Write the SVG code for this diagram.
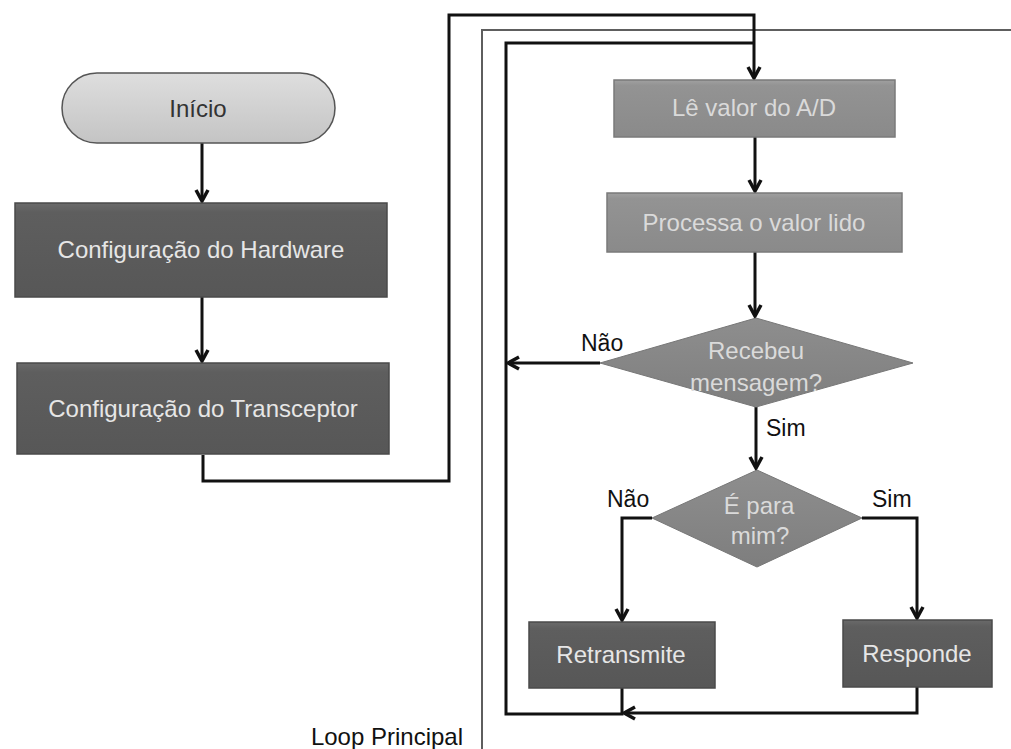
<svg xmlns="http://www.w3.org/2000/svg" width="1011" height="749" viewBox="0 0 1011 749">
<style>
.t{font-family:"Liberation Sans",Arial,sans-serif;font-size:24px;text-anchor:middle}
.lt{fill:#e6e6e6}
.mt{fill:#dadada}
.lab{font-family:"Liberation Sans",Arial,sans-serif;font-size:23px;fill:#111}
.dark{fill:url(#gDark);stroke:#4a4a4a;stroke-width:1.5}
.mid{fill:url(#gMid);stroke:#7a7a7a;stroke-width:1.5}
.dia{fill:url(#gDia);stroke:#777;stroke-width:1}
.ln{fill:none;stroke:#111;stroke-width:3;stroke-linejoin:miter}
.thin{fill:none;stroke:#5e5e5e;stroke-width:2}
</style>
<defs>
<linearGradient id="gDark" x1="0" y1="0" x2="0" y2="1">
<stop offset="0" stop-color="#6a6a6a"/><stop offset="0.1" stop-color="#5e5e5e"/><stop offset="1" stop-color="#575757"/>
</linearGradient>
<linearGradient id="gMid" x1="0" y1="0" x2="0" y2="1">
<stop offset="0" stop-color="#a0a0a0"/><stop offset="0.1" stop-color="#939393"/><stop offset="1" stop-color="#8a8a8a"/>
</linearGradient>
<linearGradient id="gDia" x1="0" y1="0" x2="0" y2="1">
<stop offset="0" stop-color="#8e8e8e"/><stop offset="1" stop-color="#7e7e7e"/>
</linearGradient>
<linearGradient id="gStart" x1="0" y1="0" x2="0" y2="1">
<stop offset="0" stop-color="#dedede"/><stop offset="1" stop-color="#c4c4c4"/>
</linearGradient>
<marker id="arr" viewBox="0 0 16 16" refX="13" refY="8" markerWidth="16" markerHeight="16" orient="auto" markerUnits="userSpaceOnUse">
<path d="M2,2 L13,8 L2,14" fill="none" stroke="#111" stroke-width="3.5"/>
</marker>
</defs>
<rect width="1011" height="749" fill="#ffffff"/>

<g id="connectors">
<path class="thin" d="M482,749 V30 H1011"/>
<path class="ln" d="M202,143 V201" marker-end="url(#arr)"/>
<path class="ln" d="M202,297 V361" marker-end="url(#arr)"/>
<path class="ln" d="M203,455 V481 H449 V15 H754 V78" marker-end="url(#arr)"/>
<path class="ln" d="M622,688 V714 H506 V43 H754"/>
<path class="ln" d="M755,137 V191" marker-end="url(#arr)"/>
<path class="ln" d="M755,252 V316" marker-end="url(#arr)"/>
<path class="ln" d="M600,363 H508" marker-end="url(#arr)"/>
<path class="ln" d="M756,407 V468" marker-end="url(#arr)"/>
<path class="ln" d="M652,518 H622 V620" marker-end="url(#arr)"/>
<path class="ln" d="M862,518 H917 V618" marker-end="url(#arr)"/>
<path class="ln" d="M917,687 V713 H624" marker-end="url(#arr)"/>
</g>

<g id="inicio">
<rect x="62" y="73" width="273" height="70" rx="35" ry="35" fill="url(#gStart)" stroke="#555" stroke-width="1.5"/>
<text class="t" x="198" y="117" fill="#333">Início</text>
</g>
<g id="cfg-hardware">
<rect class="dark" x="15" y="203" width="372" height="94"/>
<text class="t lt" x="201" y="258">Configuração do Hardware</text>
</g>
<g id="cfg-transceptor">
<rect class="dark" x="17" y="363" width="372" height="91"/>
<text class="t lt" x="203" y="417">Configuração do Transceptor</text>
</g>
<g id="le-valor">
<rect class="mid" x="614" y="80" width="281" height="57"/>
<text class="t mt" x="754" y="116">Lê valor do A/D</text>
</g>
<g id="processa">
<rect class="mid" x="607" y="193" width="295" height="59"/>
<text class="t mt" x="754" y="231">Processa o valor lido</text>
</g>
<g id="recebeu">
<polygon class="dia" points="756,318 913,363 756,407 600,363"/>
<text class="t mt" x="756" y="359">Recebeu</text>
<text class="t mt" x="756" y="391">mensagem?</text>
</g>
<g id="para-mim">
<polygon class="dia" points="757,470 862,518 757,567 652,518"/>
<text class="t mt" x="759" y="514">É para</text>
<text class="t mt" x="760" y="544">mim?</text>
</g>
<g id="retransmite">
<rect class="dark" x="529" y="622" width="186" height="66"/>
<text class="t lt" x="621" y="663">Retransmite</text>
</g>
<g id="responde">
<rect class="dark" x="843" y="620" width="149" height="67"/>
<text class="t lt" x="917" y="662">Responde</text>
</g>

<g id="labels">
<text class="lab" x="581" y="351">Não</text>
<text class="lab" x="766" y="436">Sim</text>
<text class="lab" x="607" y="507">Não</text>
<text class="lab" x="872" y="507">Sim</text>
<text class="lab" x="463" y="745" text-anchor="end" style="font-size:24px">Loop Principal</text>
</g>
</svg>
